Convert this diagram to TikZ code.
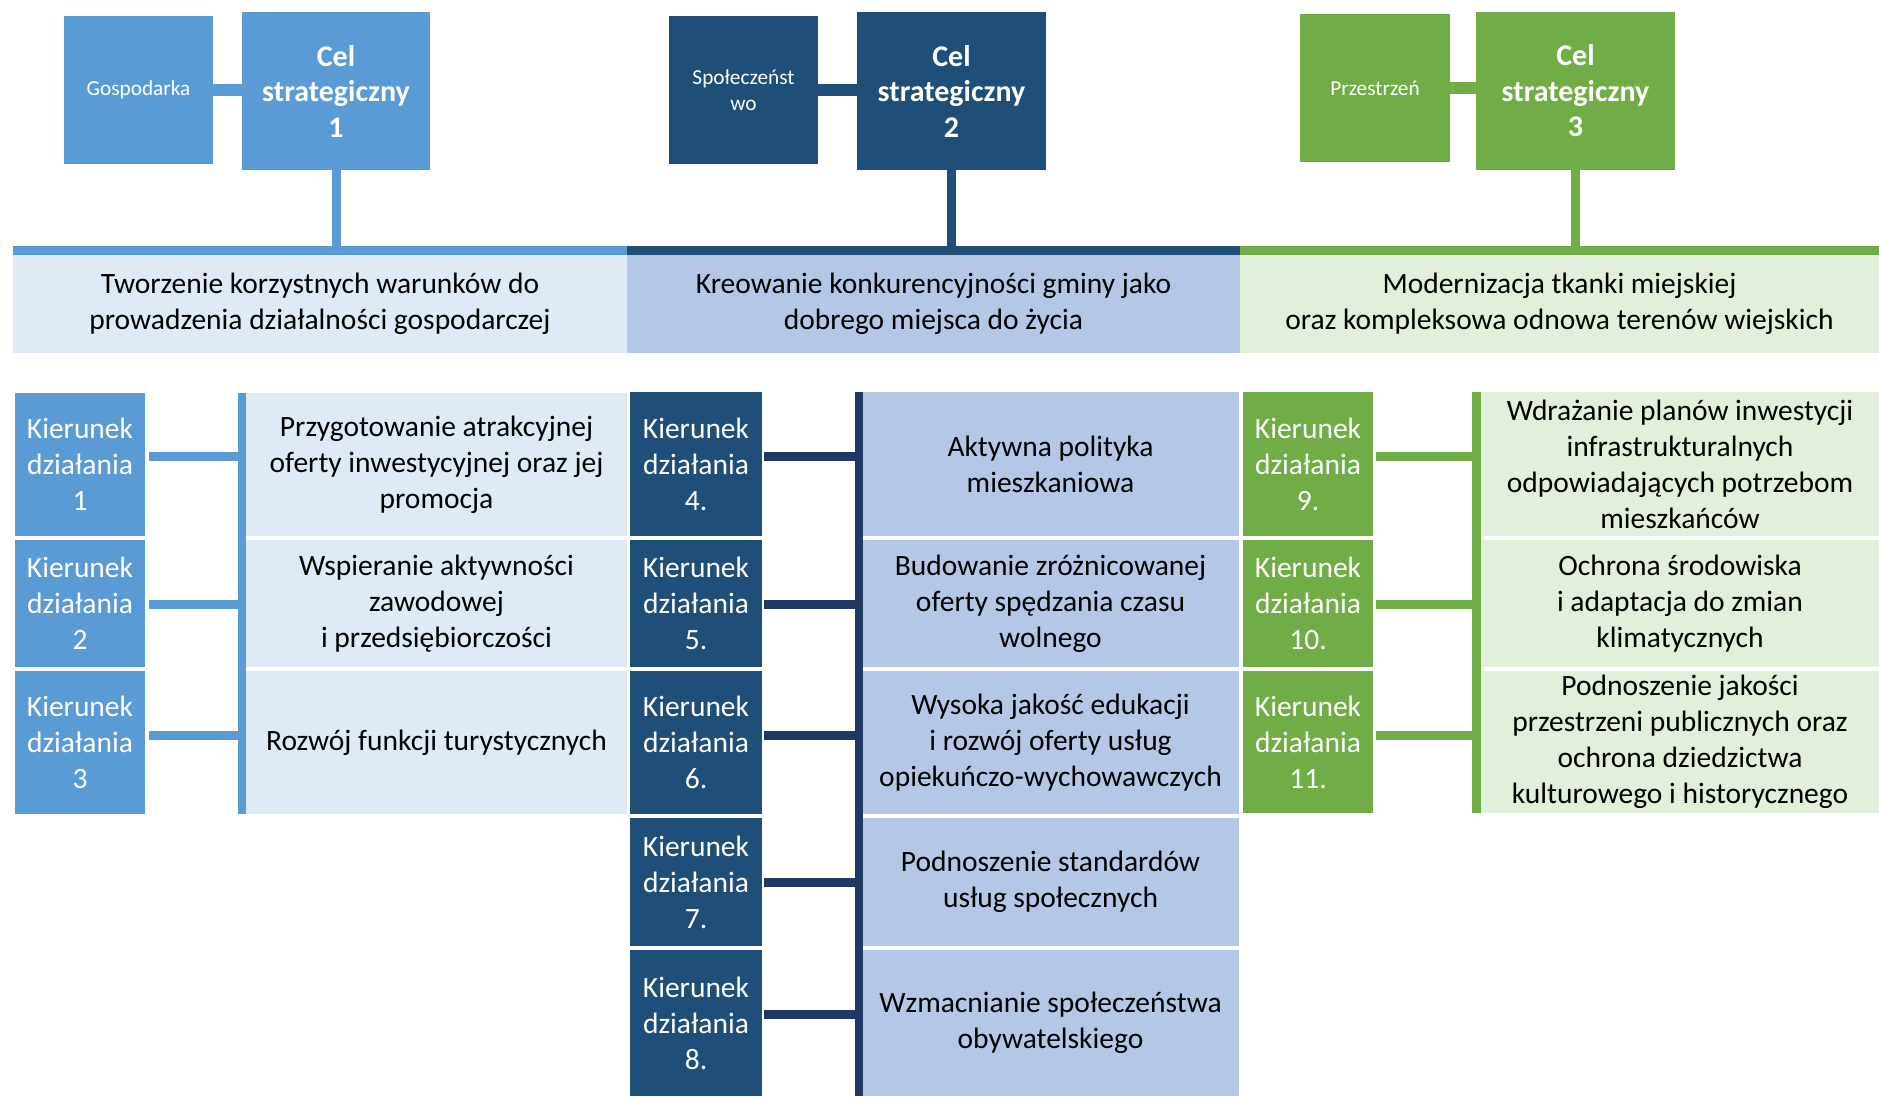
\documentclass[tikz,border=0pt]{standalone}
\usepackage{fontspec}
\setmainfont{Carlito}
\definecolor{cA}{HTML}{5B9BD5}
\definecolor{cAl}{HTML}{DEEAF6}
\definecolor{cB}{HTML}{1F4E79}
\definecolor{cBd}{HTML}{203864}
\definecolor{cBl}{HTML}{B4C7E7}
\definecolor{cC}{HTML}{70AD47}
\definecolor{cCl}{HTML}{E2EFDA}
\tikzset{
  box/.style={draw=none, inner sep=0pt, outer sep=0pt, align=center, anchor=north west},
  bodytxt/.style={box, text=black, font=\fontsize{29.5}{36}\selectfont},
  kiertxt/.style={box, text=white, font=\fontsize{29.5}{36}\selectfont},
  celtxt/.style={box, text=white, font=\bfseries\fontsize{30}{35.5}\selectfont},
  smalltxt/.style={box, text=white, font=\fontsize{21.3}{26}\selectfont},
  conn/.style={line width=#1}
}
\begin{document}
\begin{tikzpicture}[x=1pt,y=-1pt]
\useasboundingbox[fill=white] (0,0) rectangle (1879,1096);

% ---------- top boxes ----------
\node[smalltxt, fill=cA, minimum width=149pt, minimum height=148pt] (gosp) at (64,16) {Gospodarka};
\node[celtxt, fill=cA, minimum width=188pt, minimum height=158pt] (cel1) at (242,12) {Cel\\strategiczny\\1};
\node[smalltxt, fill=cB, minimum width=149pt, minimum height=148pt] (spol) at (669,16) {Społeczeńst\\wo};
\node[celtxt, fill=cB, minimum width=189pt, minimum height=158pt] (cel2) at (857,12) {Cel\\strategiczny\\2};
\node[smalltxt, fill=cC, minimum width=150pt, minimum height=148pt] (prz) at (1300,14) {Przestrzeń};
\node[celtxt, fill=cC, minimum width=199pt, minimum height=158pt] (cel3) at (1476,12) {Cel\\strategiczny\\3};

\draw[cA, conn=12pt] (gosp.east) -- (gosp.east -| cel1.west);
\draw[cB, conn=12pt] (spol.east) -- (spol.east -| cel2.west);
\draw[cC, conn=12pt] (prz.east) -- (prz.east -| cel3.west);

% ---------- bands ----------
\node[bodytxt, fill=cAl, minimum width=614pt, minimum height=98pt] (band1) at (13,255) {Tworzenie korzystnych warunków do\\prowadzenia działalności gospodarczej};
\node[bodytxt, fill=cBl, minimum width=613pt, minimum height=98pt] (band2) at (627,255) {Kreowanie konkurencyjności gminy jako\\dobrego miejsca do życia};
\node[bodytxt, fill=cCl, minimum width=639pt, minimum height=98pt] (band3) at (1240,255) {Modernizacja tkanki miejskiej\\oraz kompleksowa odnowa terenów wiejskich};

\draw[cA, conn=9pt] ([yshift=4.5pt]band1.north west) -- ([yshift=4.5pt]band1.north east);
\draw[cB, conn=9pt] ([yshift=4.5pt]band2.north west) -- ([yshift=4.5pt]band2.north east);
\draw[cC, conn=9pt] ([yshift=4.5pt]band3.north west) -- ([yshift=4.5pt]band3.north east);

\draw[cA, conn=9pt] (cel1.south) -- (cel1.south |- band1.north);
\draw[cB, conn=9pt] ([xshift=-0.5pt]cel2.south) -- ([xshift=-0.5pt]cel2.south |- band2.north);
\draw[cC, conn=9pt] (cel3.south) -- (cel3.south |- band3.north);

% ---------- column 1 ----------
\node[kiertxt, fill=cA, minimum width=130pt, minimum height=143pt] (k1) at (15,393) {Kierunek\\działania\\1};
\node[kiertxt, fill=cA, minimum width=130pt, minimum height=127pt] (k2) at (15,540) {Kierunek\\działania\\2};
\node[kiertxt, fill=cA, minimum width=130pt, minimum height=143pt] (k3) at (15,671) {Kierunek\\działania\\3};
\node[bodytxt, fill=cAl, minimum width=381pt, minimum height=143pt] (t1) at (246,393) {Przygotowanie atrakcyjnej\\oferty inwestycyjnej oraz jej\\promocja};
\node[bodytxt, fill=cAl, minimum width=381pt, minimum height=127pt] (t2) at (246,540) {Wspieranie aktywności\\zawodowej\\i przedsiębiorczości};
\node[bodytxt, fill=cAl, minimum width=381pt, minimum height=143pt] (t3) at (246,671) {Rozwój funkcji turystycznych};

\coordinate (b1top) at (242,393);
\coordinate (b1bot) at (242,814);
\draw[cA, conn=8pt] (b1top) -- (b1bot);

\coordinate (ra) at (0,456);
\coordinate (rb) at (0,604);
\coordinate (rc) at (0,735);
\coordinate (rd) at (0,882);
\coordinate (re) at (0,1014);

\draw[cA, conn=9pt] ([xshift=4pt]k1.east |- ra) -- (b1top |- ra);
\draw[cA, conn=9pt] ([xshift=4pt]k2.east |- rb) -- (b1top |- rb);
\draw[cA, conn=9pt] ([xshift=4pt]k3.east |- rc) -- (b1top |- rc);

% ---------- column 2 ----------
\node[kiertxt, fill=cB, minimum width=132pt, minimum height=144pt] (k4) at (630,392) {Kierunek\\działania\\4.};
\node[kiertxt, fill=cB, minimum width=132pt, minimum height=127pt] (k5) at (630,540) {Kierunek\\działania\\5.};
\node[kiertxt, fill=cB, minimum width=132pt, minimum height=143pt] (k6) at (630,671) {Kierunek\\działania\\6.};
\node[kiertxt, fill=cB, minimum width=132pt, minimum height=128pt] (k7) at (630,818) {Kierunek\\działania\\7.};
\node[kiertxt, fill=cB, minimum width=132pt, minimum height=146pt] (k8) at (630,950) {Kierunek\\działania\\8.};
\node[bodytxt, fill=cBl, minimum width=377pt, minimum height=144pt] (t4) at (862,392) {Aktywna polityka\\mieszkaniowa};
\node[bodytxt, fill=cBl, minimum width=377pt, minimum height=127pt] (t5) at (862,540) {Budowanie zróżnicowanej\\oferty spędzania czasu\\wolnego};
\node[bodytxt, fill=cBl, minimum width=377pt, minimum height=143pt] (t6) at (862,671) {Wysoka jakość edukacji\\i rozwój oferty usług\\opiekuńczo-wychowawczych};
\node[bodytxt, fill=cBl, minimum width=377pt, minimum height=128pt] (t7) at (862,818) {Podnoszenie standardów\\usług społecznych};
\node[bodytxt, fill=cBl, minimum width=377pt, minimum height=146pt] (t8) at (862,950) {Wzmacnianie społeczeństwa\\obywatelskiego};

\coordinate (b2top) at (858.5,392);
\coordinate (b2bot) at (858.5,1096);
\draw[cBd, conn=8pt] (b2top) -- (b2bot);

\draw[cBd, conn=9pt] ([xshift=2pt]k4.east |- ra) -- (b2top |- ra);
\draw[cBd, conn=9pt] ([xshift=2pt]k5.east |- rb) -- (b2top |- rb);
\draw[cBd, conn=9pt] ([xshift=2pt]k6.east |- rc) -- (b2top |- rc);
\draw[cBd, conn=9pt] ([xshift=2pt]k7.east |- rd) -- (b2top |- rd);
\draw[cBd, conn=9pt] ([xshift=2pt]k8.east |- re) -- (b2top |- re);

% ---------- column 3 ----------
\node[kiertxt, fill=cC, minimum width=130pt, minimum height=144pt] (k9) at (1243,392) {Kierunek\\działania\\9.};
\node[kiertxt, fill=cC, minimum width=130pt, minimum height=127pt] (k10) at (1243,540) {Kierunek\\działania\\10.};
\node[kiertxt, fill=cC, minimum width=130pt, minimum height=142pt] (k11) at (1243,671) {Kierunek\\działania\\11.};
\node[bodytxt, fill=cCl, minimum width=398pt, minimum height=144pt] (t9) at (1481,392) {Wdrażanie planów inwestycji\\infrastrukturalnych\\odpowiadających potrzebom\\mieszkańców};
\node[bodytxt, fill=cCl, minimum width=398pt, minimum height=127pt] (t10) at (1481,540) {Ochrona środowiska\\i adaptacja do zmian\\klimatycznych};
\node[bodytxt, fill=cCl, minimum width=398pt, minimum height=142pt] (t11) at (1481,671) {Podnoszenie jakości\\przestrzeni publicznych oraz\\ochrona dziedzictwa\\kulturowego i historycznego};

\coordinate (b3top) at (1476.5,392);
\coordinate (b3bot) at (1476.5,813);
\draw[cC, conn=9pt] (b3top) -- (b3bot);

\draw[cC, conn=9pt] ([xshift=3pt]k9.east |- ra) -- (b3top |- ra);
\draw[cC, conn=9pt] ([xshift=3pt]k10.east |- rb) -- (b3top |- rb);
\draw[cC, conn=9pt] ([xshift=3pt]k11.east |- rc) -- (b3top |- rc);
\end{tikzpicture}
\end{document}
